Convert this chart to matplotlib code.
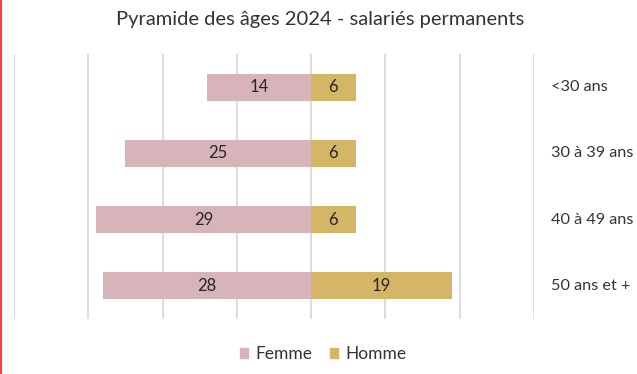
import matplotlib.pyplot as plt
from matplotlib.patches import Patch
import numpy as np

plt.rcParams['font.family'] = ['Lato', 'DejaVu Sans']

categories = ['<30 ans', '30 à 39 ans', '40 à 49 ans', '50 ans et +']
femme = [14, 25, 29, 28]
homme = [6, 6, 6, 19]

col_f = '#D7B4B9'
col_h = '#D5B566'

fig = plt.figure(figsize=(6.37, 3.74), dpi=100)
W, H = 637, 374
ax = fig.add_axes([14 / W, 1 - 319 / H, (534 - 14) / W, (319 - 54) / H])

y = np.arange(len(categories))
ax.barh(y, [-v for v in femme], height=0.41, color=col_f)
ax.barh(y, homme, height=0.41, color=col_h)

for i in range(len(categories)):
    ax.text(-femme[i] / 2, y[i], str(femme[i]), ha='center', va='center',
            fontsize=12, color='#262626')
    ax.text(homme[i] / 2, y[i], str(homme[i]), ha='center', va='center',
            fontsize=12, color='#262626')
    ax.text(1 + 17 / 520, y[i], categories[i],
            transform=ax.get_yaxis_transform(), ha='left', va='center',
            fontsize=11.7, color='#333333')

ax.set_xlim(-40, 30)
ax.set_ylim(3.5, -0.5)
ax.set_xticks(np.arange(-40, 31, 10))
ax.grid(axis='x', color='#d9d9d9', linewidth=1.3)
ax.set_axisbelow(True)
ax.tick_params(left=False, bottom=False, labelleft=False, labelbottom=False)
for s in ax.spines.values():
    s.set_visible(False)

fig.text(320 / W, 1 - 19 / H, 'Pyramide des âges 2024 - salariés permanents',
         ha='center', va='center', fontsize=14.5, color='#333333')

fig.legend(handles=[Patch(color=col_f, label='Femme'), Patch(color=col_h, label='Homme')],
           loc='center', bbox_to_anchor=(323 / W, 1 - 354 / H), ncol=2, frameon=False,
           fontsize=12.5, handlelength=0.5, handleheight=0.5, columnspacing=1.0,
           handletextpad=0.4, labelcolor='#333333')

fig.add_artist(plt.Line2D([0.8 / W, 0.8 / W], [0, 1], color='#ff4040', linewidth=1.5))

fig.savefig('out.png', dpi=100)
